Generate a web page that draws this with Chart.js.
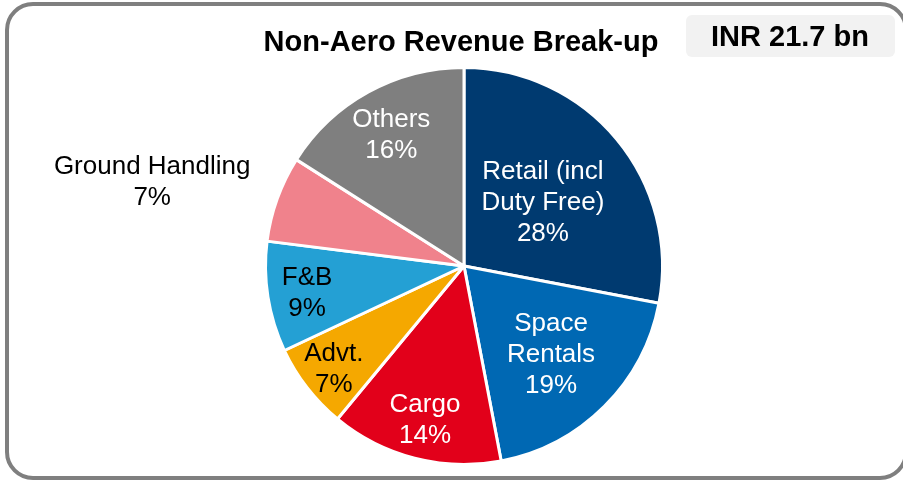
<!DOCTYPE html>
<html>
<head>
<meta charset="utf-8">
<script src="https://cdn.jsdelivr.net/npm/chart.js@4"></script>
<style>
  html, body { margin: 0; padding: 0; background: #fff; overflow: hidden; }
  #wrap { position: relative; width: 903px; height: 481px; }
  #frame {
    position: absolute; left: 5px; top: 2px; width: 903px; height: 478px;
    box-sizing: border-box; border: 4px solid #7f7f7f; border-radius: 28px;
    pointer-events: none;
  }
</style>
</head>
<body>
<div id="wrap">
  <canvas id="pieChart" width="903" height="481"></canvas>
  <div id="frame"></div>
</div>
<script>
const segments = ['Retail (incl Duty Free)', 'Space Rentals', 'Cargo', 'Advt.', 'F&B', 'Ground Handling', 'Others'];
const shares = [28, 19, 14, 7, 9, 7, 16];
const labelLines = [
    ['Retail (incl', 'Duty Free)'],
    ['Space', 'Rentals'],
    ['Cargo'],
    ['Advt.'],
    ['F&B'],
    ['Ground Handling'],
    ['Others'],
];
const colors = ['#003a70', '#0068b3', '#e2001a', '#f5a800', '#24a0d4', '#f0828c', '#7f7f7f'];
const textColors = ['#fff', '#fff', '#fff', '#000', '#000', '#000', '#fff'];
const chartTitle = 'Non-Aero Revenue Break-up';
const totalLabel = 'INR 21.7 bn';

// where each label sits: fraction of the radius along the mid angle, plus a nudge
const labelPlace = [
    {f: 0.516, dx: 0, dy: 2},
    {f: 0.62, dx: 0, dy: 2},
    {f: 0.79, dx: 0, dy: 2},
    {f: 0.83, dx: 0, dy: 2},
    {f: 0.80, dx: 0, dy: 2},
    {f: 1.6, dx: -13, dy: 24},
    {f: 0.76, dx: 0, dy: 2},
];

const sliceLabels = {
    id: 'sliceLabels',
    afterDatasetsDraw(chart) {
        const ctx = chart.ctx;
        const arcs = chart.getDatasetMeta(0).data;
        ctx.save();
        ctx.font = '26px "Liberation Sans", Arial, sans-serif';
        ctx.textAlign = 'center';
        ctx.textBaseline = 'middle';
        arcs.forEach((arc, i) => {
            const p = arc.getProps(['x', 'y', 'startAngle', 'endAngle', 'outerRadius'], true);
            const mid = (p.startAngle + p.endAngle) / 2;
            const pl = labelPlace[i];
            const cx = p.x + Math.cos(mid) * p.outerRadius * pl.f + pl.dx;
            const cy = p.y + Math.sin(mid) * p.outerRadius * pl.f + pl.dy;
            const lines = labelLines[i].concat([shares[i] + '%']);
            const lh = 31;
            const y0 = cy - (lines.length - 1) * lh / 2;
            ctx.fillStyle = textColors[i];
            lines.forEach((t, k) => ctx.fillText(t, cx, y0 + k * lh));
        });
        ctx.restore();
    }
};

const header = {
    id: 'header',
    afterDraw(chart) {
        const ctx = chart.ctx;
        ctx.save();
        ctx.fillStyle = '#000';
        ctx.font = 'bold 29px "Liberation Sans", Arial, sans-serif';
        ctx.textAlign = 'center';
        ctx.textBaseline = 'alphabetic';
        ctx.fillText(chartTitle, 461, 51);
        ctx.fillStyle = '#f2f2f2';
        ctx.beginPath();
        ctx.roundRect(686, 15, 209, 42, 6);
        ctx.fill();
        ctx.fillStyle = '#000';
        ctx.fillText(totalLabel, 790, 46);
        ctx.restore();
    }
};

const ctx = document.getElementById('pieChart').getContext('2d');
const pieChart = new Chart(ctx, {
    type: 'pie',
    data: {
        labels: segments,
        datasets: [{
            data: shares,
            backgroundColor: colors,
            borderColor: '#fff',
            borderWidth: 3,
        }],
    },
    options: {
        responsive: false,
        animation: false,
        layout: {
            padding: {top: 66, bottom: 15, left: 264, right: 239},
        },
        plugins: {
            legend: {display: false},
            tooltip: {enabled: false},
        },
    },
    plugins: [sliceLabels, header],
});
</script>
</body>
</html>
